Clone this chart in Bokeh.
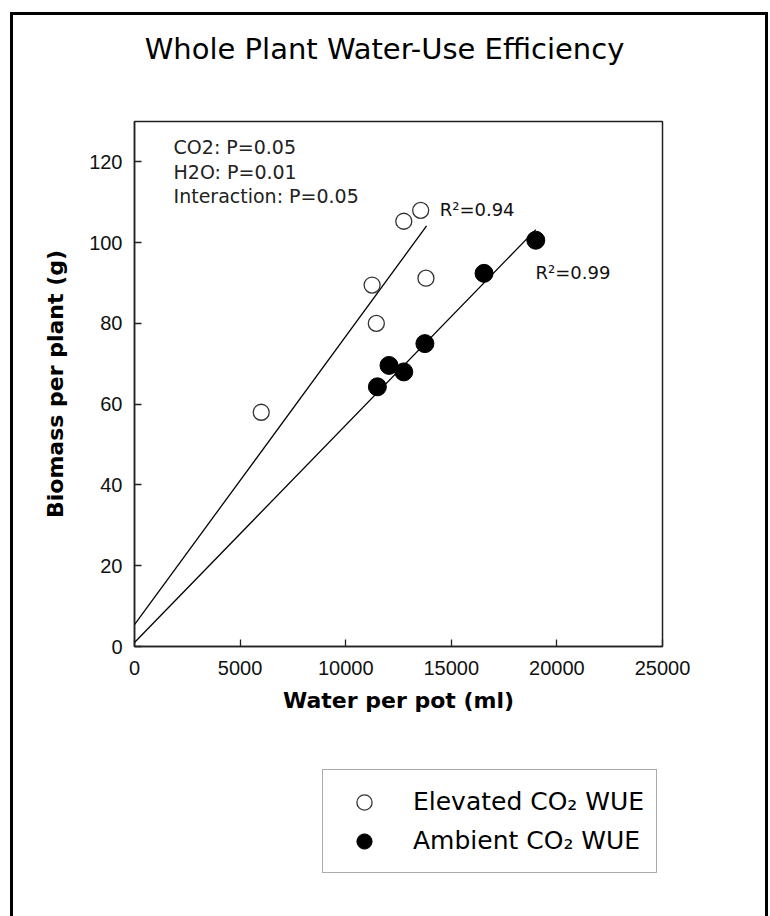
from bokeh.plotting import figure
from bokeh.layouts import column
from bokeh.models import (ColumnDataSource, Legend, LegendItem, FixedTicker,
                          Label, Range1d)
from bokeh.core.properties import value
from bokeh.embed import file_html
from bokeh.resources import INLINE

# Whole-plant water use vs biomass, elevated and ambient CO2
elev_water = [6000, 11250, 11450, 12750, 13550, 13800]
elev_biomass = [58.0, 89.5, 80.0, 105.3, 108.0, 91.2]

amb_water = [11500, 12050, 12750, 13750, 16550, 19000]
amb_biomass = [64.3, 69.6, 68.0, 75.0, 92.4, 100.6]

# linear fits: intercept, slope and the span of water they are drawn over
elev_fit = {"intercept": 5.4, "slope": 0.00714, "x0": 0, "x1": 13830}
amb_fit = {"intercept": 1.0, "slope": 0.00538, "x0": 0, "x1": 19000}

r2_labels = ["R²=0.94", "R²=0.99"]
r2_x = [14450, 18990]
r2_y = [108.3, 92.7]

stats_lines = ["CO2: P=0.05", "H2O: P=0.01", "Interaction: P=0.05"]
stats_x = [1850, 1850, 1850]
stats_y = [123.7, 117.6, 111.6]

legend_labels = ["Elevated CO₂ WUE", "Ambient CO₂ WUE"]
title_text = "Whole Plant Water-Use Efficiency"

x_ticks = [0, 5000, 10000, 15000, 20000, 25000]
y_ticks = [0, 20, 40, 60, 80, 100, 120]

FONT = "DejaVu Sans"
TICK_FONT = "Liberation Sans"
INK = "#222222"


def bare_figure(height):
    f = figure(width=752, height=height, min_border=0,
               x_axis_type=None, y_axis_type=None,
               x_range=Range1d(-2, -1), y_range=Range1d(-2, -1),
               toolbar_location=None, output_backend="svg",
               background_fill_color="white", border_fill_color="white")
    f.outline_line_color = None
    f.xgrid.visible = False
    f.ygrid.visible = False
    return f


# heading strip
head = bare_figure(104)
head.add_layout(Label(x=250, y=71, x_units="screen", y_units="screen",
                      text=title_text, text_font=FONT, text_font_size="29px",
                      text_align="center", text_baseline="middle",
                      text_color="black"))

# main scatter chart
p = figure(frame_width=528, frame_height=525,
           min_border_left=121, min_border_right=103,
           min_border_top=2, min_border_bottom=104,
           x_range=(0, 25000), y_range=(0, 130),
           toolbar_location=None, output_backend="svg",
           background_fill_color="white", border_fill_color="white")

p.xgrid.visible = False
p.ygrid.visible = False
p.outline_line_color = INK
p.outline_line_width = 1.5

for ax in (p.xaxis[0], p.yaxis[0]):
    ax.axis_line_color = INK
    ax.axis_line_width = 1.5
    ax.major_tick_in = 7
    ax.major_tick_out = 0
    ax.major_tick_line_color = INK
    ax.major_tick_line_width = 1.3
    ax.minor_tick_line_color = None
    ax.major_label_text_font = TICK_FONT
    ax.major_label_text_font_size = "20px"
    ax.major_label_text_color = "#111111"
    ax.axis_label_text_font = FONT
    ax.axis_label_text_font_style = "bold"
    ax.axis_label_text_font_size = "22px"
    ax.axis_label_text_color = "black"

p.xaxis.ticker = FixedTicker(ticks=x_ticks)
p.yaxis.ticker = FixedTicker(ticks=y_ticks)
p.xaxis.axis_label = "Water per pot (ml)"
p.yaxis.axis_label = "Biomass per plant (g)"
p.xaxis.major_label_standoff = 14
p.yaxis.major_label_standoff = 12
p.xaxis.axis_label_standoff = 10
p.yaxis.axis_label_standoff = 18

# regression lines
for fit in (elev_fit, amb_fit):
    xs = [fit["x0"], fit["x1"]]
    ys = [fit["intercept"] + fit["slope"] * x for x in xs]
    p.line(xs, ys, line_color="black", line_width=1.3)

elev_src = ColumnDataSource(dict(x=elev_water, y=elev_biomass))
amb_src = ColumnDataSource(dict(x=amb_water, y=amb_biomass))
elev_style = dict(marker="circle", size=16, fill_color="white",
                  line_color="#333333", line_width=1.3)
amb_style = dict(marker="circle", size=18, fill_color="black",
                 line_color="black", line_width=1)

p.scatter("x", "y", source=elev_src, **elev_style)
p.scatter("x", "y", source=amb_src, **amb_style)

p.text(x=r2_x, y=r2_y, text=r2_labels, text_font=value(FONT),
       text_font_size="18px", text_align="left", text_baseline="middle",
       text_color="#111111")

p.text(x=stats_x, y=stats_y, text=stats_lines, text_font=value(FONT),
       text_font_size="19px", text_align="left", text_baseline="middle",
       text_color="#222222")

# key strip: same series, viewed through an empty window so only the key shows
key = bare_figure(166)
elev_key = key.scatter("x", "y", source=elev_src, **elev_style)
amb_key = key.scatter("x", "y", source=amb_src, **amb_style)

legend = Legend(items=[LegendItem(label=legend_labels[0], renderers=[elev_key]),
                       LegendItem(label=legend_labels[1], renderers=[amb_key])],
                location=(188, 43), orientation="vertical",
                padding=12, spacing=0, margin=0,
                glyph_width=58, glyph_height=38,
                label_height=39, label_width=226, label_standoff=20,
                label_text_font=FONT, label_text_font_size="25px",
                label_text_color="black",
                border_line_color="#555555", border_line_width=1.5,
                background_fill_color="white", background_fill_alpha=1)
key.add_layout(legend, "center")

page = column(head, p, key, spacing=0, margin=(12, 0, 0, 10),
              styles={"border-left": "3px solid black",
                      "border-top": "3px solid black",
                      "border-right": "3px solid black",
                      "background-color": "white"})

open("out.html", "w").write(file_html(page, INLINE))
